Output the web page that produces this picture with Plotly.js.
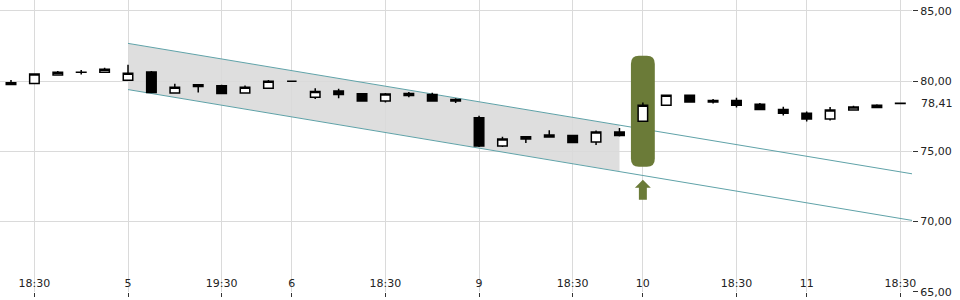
<!DOCTYPE html>
<html>
<head>
<meta charset="utf-8">
<script src="https://cdn.plot.ly/plotly-3.0.1.min.js"></script>
<style>html,body{margin:0;padding:0;background:#fff;}#chart{width:960px;height:300px;}</style>
</head>
<body>
<div id="chart"></div>
<script>
// Candle index positions
const candleIdx = [0,1,2,3,4,5,6,7,8,9,10,11,12,13,14,15,16,17,18,19,20,21,22,23,24,25,26,27,28,29,30,31,32,33,34,35,36,37,38];
const openV  = [79.88,79.83,80.43,80.63,80.64,80.07,80.66,79.15,79.74,79.67,79.15,79.50,80.00,78.86,79.29,79.10,78.58,79.12,79.05,78.69,77.39,75.38,75.87,76.16,76.13,75.66,76.37,77.15,78.29,79.00,78.62,78.62,78.36,77.98,77.72,77.30,77.94,78.12,78.42];
const highV  = [80.09,80.50,80.73,80.80,80.95,81.16,80.73,79.81,79.74,79.74,79.69,80.09,80.01,79.50,79.45,79.10,79.15,79.22,79.17,78.79,77.53,76.04,76.04,76.51,76.18,76.49,76.66,78.48,79.00,79.00,78.72,78.81,78.44,78.17,77.84,78.15,78.24,78.36,78.42];
const lowV   = [79.76,79.83,80.43,80.47,80.64,80.07,79.19,79.15,79.19,79.12,79.15,79.50,79.99,78.72,78.79,78.58,78.48,78.86,78.58,78.44,75.31,75.31,75.59,75.97,75.63,75.45,76.06,77.15,78.29,78.51,78.41,78.12,77.98,77.55,77.13,77.20,77.94,78.12,78.41];
const closeV = [79.76,80.50,80.64,80.64,80.85,80.57,79.19,79.57,79.62,79.12,79.57,80.00,80.00,79.26,79.05,78.58,79.08,78.98,78.58,78.58,75.38,75.87,76.04,76.02,75.63,76.37,76.13,78.29,79.00,78.51,78.51,78.29,77.98,77.72,77.30,77.94,78.15,78.29,78.41];

// X tick labels
const tickIdx  = [1,5,9,12,16,20,24,27,31,34,38];
const tickText = ['18:30','5','19:30','6','18:30','9','18:30','10','18:30','11','18:30'];

// Y ticks
const yTicks = [65,70,75,80,85];
const lastPrice = 78.41;

// Trend channel
const channelX     = [5, 26, 38.5];
const channelUpper = [82.69, 76.85, 73.40];
const channelLower = [79.40, 73.58, 70.08];

// Highlight marker around candle 27
const markerIdx = 27;
const markerHalfW = 0.51;
const markerBox = [73.9, 81.8];        // bottom, top
const arrowY = [71.55, 72.40, 72.97];  // shaft bottom, head base, tip
const arrowHalfW = [0.17, 0.34];       // shaft, head

const green = '#6b7b38';
const teal = '#5fa2a8';

// Band path (shaded channel up to index 26)
const bandPath = `M${channelX[0]},${channelUpper[0]} L${channelX[1]},${channelUpper[1]} L${channelX[1]},${channelLower[1]} L${channelX[0]},${channelLower[0]} Z`;

// Rounded rect path
const rx = 0.34, ry = 0.57;
const x0 = markerIdx - markerHalfW, x1 = markerIdx + markerHalfW;
const yb = markerBox[0], yt = markerBox[1];
const boxPath = `M${x0+rx},${yt} L${x1-rx},${yt} Q${x1},${yt} ${x1},${yt-ry} L${x1},${yb+ry} Q${x1},${yb} ${x1-rx},${yb} L${x0+rx},${yb} Q${x0},${yb} ${x0},${yb+ry} L${x0},${yt-ry} Q${x0},${yt} ${x0+rx},${yt} Z`;

const arrowPath = `M${markerIdx},${arrowY[2]} L${markerIdx+arrowHalfW[1]},${arrowY[1]} L${markerIdx+arrowHalfW[0]},${arrowY[1]} L${markerIdx+arrowHalfW[0]},${arrowY[0]} L${markerIdx-arrowHalfW[0]},${arrowY[0]} L${markerIdx-arrowHalfW[0]},${arrowY[1]} L${markerIdx-arrowHalfW[1]},${arrowY[1]} Z`;

const traces = [{
  type: 'candlestick',
  x: candleIdx, open: openV, high: highV, low: lowV, close: closeV,
  increasing: {line: {color: '#000', width: 1.5}, fillcolor: '#ffffff'},
  decreasing: {line: {color: '#000', width: 1.5}, fillcolor: '#000000'},
  whiskerwidth: 0,
  hoverinfo: 'skip',
  showlegend: false
}];

const layout = {
  width: 960, height: 300,
  margin: {l: 0, r: 48, t: 0, b: 8},
  paper_bgcolor: '#ffffff', plot_bgcolor: '#ffffff',
  separators: ',.',
  showlegend: false,
  boxgap: 0.42,
  font: {family: 'DejaVu Sans', size: 11, color: '#222'},
  xaxis: {
    type: 'linear',
    range: [-0.47, 38.5],
    tickmode: 'array', tickvals: tickIdx, ticktext: tickText,
    ticks: 'outside', ticklen: 4, tickcolor: '#333', tickwidth: 1,
    ticklabelposition: 'inside',
    ticklabeloverflow: 'allow',
    showgrid: true, gridcolor: '#dadada', gridwidth: 1,
    zeroline: false, showline: false,
    rangeslider: {visible: false},
    tickfont: {family: 'DejaVu Sans', size: 11, color: '#222'},
    fixedrange: true
  },
  yaxis: {
    side: 'right',
    range: [64.98, 85.78],
    tickmode: 'array', tickvals: yTicks,
    tickformat: '.2f',
    ticks: 'outside', ticklen: 5, tickcolor: '#333', tickwidth: 1,
    ticklabeloverflow: 'allow',
    showgrid: true, gridcolor: '#dadada', gridwidth: 1,
    zeroline: false, showline: false,
    tickfont: {family: 'DejaVu Sans', size: 11, color: '#222'},
    fixedrange: true
  },
  shapes: [
    {type: 'path', xref: 'x', yref: 'y', path: bandPath, fillcolor: '#dedede', line: {width: 0}, layer: 'below'},
    {type: 'line', xref: 'x', yref: 'y', x0: channelX[0], y0: channelUpper[0], x1: channelX[2], y1: channelUpper[2], line: {color: teal, width: 1}, layer: 'between'},
    {type: 'line', xref: 'x', yref: 'y', x0: channelX[0], y0: channelLower[0], x1: channelX[2], y1: channelLower[2], line: {color: teal, width: 1}, layer: 'between'},
    {type: 'path', xref: 'x', yref: 'y', path: boxPath, fillcolor: green, line: {width: 0}, layer: 'between'},
    {type: 'path', xref: 'x', yref: 'y', path: arrowPath, fillcolor: green, line: {width: 0}, layer: 'between'}
  ],
  annotations: [
    {xref: 'paper', yref: 'y', x: 1, y: lastPrice, xanchor: 'left', yanchor: 'middle', xshift: 7,
     text: lastPrice.toFixed(2).replace('.', ','), showarrow: false,
     font: {family: 'DejaVu Sans', size: 11, color: '#222'}}
  ]
};

Plotly.newPlot('chart', traces, layout, {displayModeBar: false, staticPlot: true});
</script>
</body>
</html>
